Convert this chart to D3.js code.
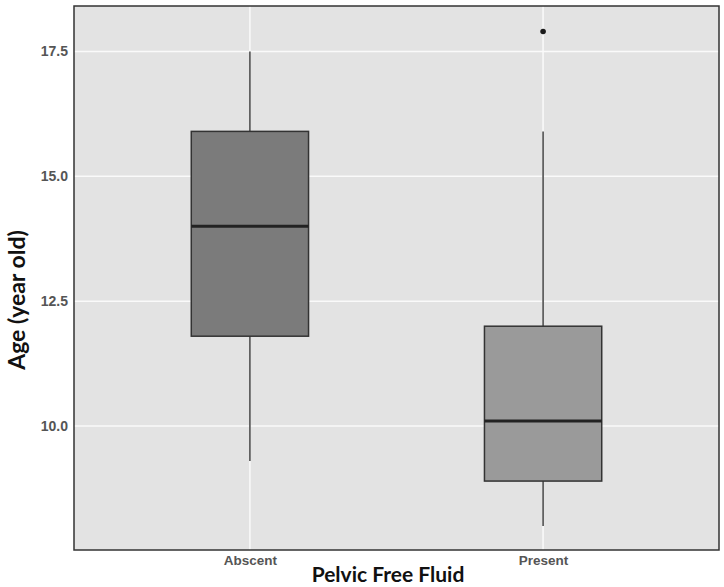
<!DOCTYPE html>
<html>
<head>
<meta charset="utf-8">
<script src="https://cdn.jsdelivr.net/npm/d3@7"></script>
<style>
  body { margin: 0; background: #fff; }
  svg { display: block; }
</style>
</head>
<body>
<svg width="724" height="587"></svg>
<script>
const categories = ["Abscent", "Present"];
const whiskerLow = [9.3, 8.0];
const q1 = [11.8, 8.9];
const median = [14.0, 10.1];
const q3 = [15.9, 12.0];
const whiskerHigh = [17.5, 15.9];
const fills = ["#7b7b7b", "#9a9a9a"];
const outliers = [{ cat: "Present", value: 17.9 }];
const yTicks = [10.0, 12.5, 15.0, 17.5];

const margin = { top: 6, right: 5, bottom: 37, left: 74 };
const width = 724 - margin.left - margin.right;
const height = 587 - margin.top - margin.bottom;

const svg = d3.select("svg");
const g = svg.append("g")
    .attr("transform", `translate(${margin.left},${margin.top})`);

// ggplot-like discrete scale: positions 1..n with 0.6 expansion
const xScale = d3.scaleLinear()
    .domain([0.4, categories.length + 0.6])
    .range([0, width]);
const xPos = c => xScale(categories.indexOf(c) + 1);
const boxW = xScale(1.4) - xScale(1);

const yScale = d3.scaleLinear()
    .domain([7.52, 18.41])
    .range([height, 0]);

g.append("rect")
    .attr("width", width)
    .attr("height", height)
    .attr("fill", "#e3e3e3");

// grid
g.selectAll(".hgrid")
    .data(yTicks)
    .enter()
    .append("line")
    .attr("x1", 0)
    .attr("x2", width)
    .attr("y1", d => yScale(d))
    .attr("y2", d => yScale(d))
    .attr("stroke", "#fafafa")
    .attr("stroke-width", 1.5);

g.selectAll(".vgrid")
    .data(categories)
    .enter()
    .append("line")
    .attr("x1", d => xPos(d))
    .attr("x2", d => xPos(d))
    .attr("y1", 0)
    .attr("y2", height)
    .attr("stroke", "#fafafa")
    .attr("stroke-width", 1.5);

const boxes = g.selectAll(".box")
    .data(categories)
    .enter()
    .append("g")
    .attr("class", "box");

boxes.append("line")
    .attr("x1", d => xPos(d))
    .attr("x2", d => xPos(d))
    .attr("y1", (d, i) => yScale(whiskerHigh[i]))
    .attr("y2", (d, i) => yScale(whiskerLow[i]))
    .attr("stroke", "#444")
    .attr("stroke-width", 1.5);

boxes.append("rect")
    .attr("x", d => xPos(d) - boxW / 2)
    .attr("width", boxW)
    .attr("y", (d, i) => yScale(q3[i]))
    .attr("height", (d, i) => yScale(q1[i]) - yScale(q3[i]))
    .attr("fill", (d, i) => fills[i])
    .attr("stroke", "#333")
    .attr("stroke-width", 1.5);

boxes.append("line")
    .attr("x1", d => xPos(d) - boxW / 2)
    .attr("x2", d => xPos(d) + boxW / 2)
    .attr("y1", (d, i) => yScale(median[i]))
    .attr("y2", (d, i) => yScale(median[i]))
    .attr("stroke", "#222")
    .attr("stroke-width", 3);

g.selectAll(".outlier")
    .data(outliers)
    .enter()
    .append("circle")
    .attr("cx", d => xPos(d.cat))
    .attr("cy", d => yScale(d.value))
    .attr("r", 2.8)
    .attr("fill", "#1a1a1a");

// panel border
g.append("rect")
    .attr("width", width)
    .attr("height", height)
    .attr("fill", "none")
    .attr("stroke", "#333")
    .attr("stroke-width", 1.5);

// axes
const yAxis = d3.axisLeft(yScale)
    .tickValues(yTicks)
    .tickFormat(d3.format(".1f"))
    .tickSize(0)
    .tickPadding(6);
g.append("g")
    .call(yAxis)
    .call(a => a.select(".domain").remove())
    .selectAll("text")
    .attr("font-family", "Liberation Sans, Arial, sans-serif")
    .attr("font-size", 14)
    .attr("font-weight", "bold")
    .attr("fill", "#555");

const xAxis = d3.axisBottom(xScale)
    .tickValues(categories.map((c, i) => i + 1))
    .tickFormat(d => categories[d - 1])
    .tickSize(0)
    .tickPadding(5);
g.append("g")
    .attr("transform", `translate(0,${height})`)
    .call(xAxis)
    .call(a => a.select(".domain").remove())
    .selectAll("text")
    .attr("font-family", "Liberation Sans, Arial, sans-serif")
    .attr("font-size", 13.5)
    .attr("font-weight", "bold")
    .attr("fill", "#555");

svg.append("text")
    .attr("x", 388)
    .attr("y", 582)
    .attr("text-anchor", "middle")
    .attr("font-family", "Lato, sans-serif")
    .attr("font-weight", "bold")
    .attr("font-size", 21)
    .attr("fill", "#111")
    .text("Pelvic Free Fluid");

svg.append("text")
    .attr("transform", `translate(25,${300}) rotate(-90)`)
    .attr("text-anchor", "middle")
    .attr("font-family", "Lato, sans-serif")
    .attr("font-weight", "bold")
    .attr("font-size", 23)
    .attr("fill", "#111")
    .text("Age (year old)");
</script>
</body>
</html>
